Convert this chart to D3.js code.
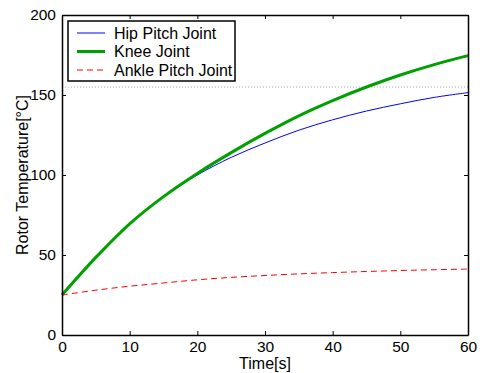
<!DOCTYPE html>
<html>
<head>
<meta charset="utf-8">
<script src="https://cdn.jsdelivr.net/npm/d3@7"></script>
<style>
  body { margin: 0; background: #fff; }
  svg { display: block; font-family: "Liberation Sans", Arial, sans-serif; }
</style>
</head>
<body>
<svg id="chart" width="482" height="373"></svg>
<script>
// time samples [s]
const timeS = [0, 5, 10, 15, 20, 25, 30, 35, 40, 45, 50, 55, 60];
const hipPitch = [25, 48.5, 69.5, 86.5, 100, 111, 120, 128, 134.5, 140, 144.5, 148.5, 151.5];
const knee = [25, 48.5, 69.5, 86.5, 101, 114, 126, 137, 146.5, 155, 162.5, 169, 174.6];
const anklePitch = [25, 28, 30.5, 32.5, 34.5, 36, 37.2, 38.2, 39, 39.7, 40.3, 40.8, 41.2];
const limitTemp = 155;
const xTicks = [0, 10, 20, 30, 40, 50, 60];
const yTicks = [0, 50, 100, 150, 200];
const seriesNames = ['Hip Pitch Joint', 'Knee Joint', 'Ankle Pitch Joint'];

const svg = d3.select('#chart');
const margin = { left: 62, right: 14, top: 15, bottom: 38 };
const width = 482, height = 373;
const x = d3.scaleLinear().domain([0, 60]).range([margin.left, width - margin.right]);
const y = d3.scaleLinear().domain([0, 200]).range([height - margin.bottom, margin.top]);

const series = [
  { name: seriesNames[0], values: hipPitch, color: '#0000ff', w: 1, dash: null },
  { name: seriesNames[1], values: knee, color: '#00a000', w: 3, dash: null },
  { name: seriesNames[2], values: anklePitch, color: '#ff0000', w: 1, dash: '6,4' },
];

// limit line
svg.append('line')
  .attr('x1', x(0)).attr('x2', x(60))
  .attr('y1', y(limitTemp)).attr('y2', y(limitTemp))
  .attr('stroke', '#aaa').attr('stroke-width', 1)
  .attr('stroke-dasharray', '1,2');

const line = d3.line()
  .x((d, i) => x(timeS[i]))
  .y((d) => y(d))
  .curve(d3.curveCatmullRom);

series.forEach((s) => {
  svg.append('path')
    .datum(s.values)
    .attr('d', line)
    .attr('fill', 'none')
    .attr('stroke', s.color)
    .attr('stroke-width', s.w)
    .attr('stroke-dasharray', s.dash);
});

// axes (ticks inside, on all four sides)
const fmt = d3.format('d');
const bottom = svg.append('g').attr('transform', `translate(0,${y(0)})`)
  .call(d3.axisBottom(x).tickValues(xTicks).tickFormat(fmt).tickSizeInner(-4).tickSizeOuter(0).tickPadding(6));
const left = svg.append('g').attr('transform', `translate(${x(0)},0)`)
  .call(d3.axisLeft(y).tickValues(yTicks).tickFormat(fmt).tickSizeInner(-4).tickSizeOuter(0).tickPadding(6));
svg.append('g').attr('transform', `translate(0,${y(200)})`)
  .call(d3.axisTop(x).tickValues(xTicks).tickFormat('').tickSizeInner(-4).tickSizeOuter(0));
svg.append('g').attr('transform', `translate(${x(60)},0)`)
  .call(d3.axisRight(y).tickValues(yTicks).tickFormat('').tickSizeInner(-4).tickSizeOuter(0));

svg.selectAll('.domain').attr('stroke', '#000').attr('stroke-width', 1.5);
svg.selectAll('.tick line').attr('stroke', '#000').attr('stroke-width', 1);
svg.selectAll('.tick text').attr('font-size', 15.5).attr('fill', '#000')
  .attr('font-family', '"Liberation Sans", Arial, sans-serif');
bottom.selectAll('.tick text').attr('dy', '0.71em');

// axis labels
svg.append('text')
  .attr('x', (x(0) + x(60)) / 2).attr('y', 369)
  .attr('text-anchor', 'middle').attr('font-size', 16)
  .text('Time[s]');
svg.append('text')
  .attr('transform', `translate(28,${(y(0) + y(200)) / 2}) rotate(-90)`)
  .attr('text-anchor', 'middle').attr('font-size', 16)
  .text('Rotor Temperature[°C]');

// legend
const lg = svg.append('g').attr('transform', 'translate(68,21)');
lg.append('rect').attr('width', 167).attr('height', 60)
  .attr('fill', '#fff').attr('stroke', '#000').attr('stroke-width', 1.5);
series.forEach((s, i) => {
  const yy = 12 + i * 18.5;
  lg.append('line').attr('x1', 9).attr('x2', 37).attr('y1', yy).attr('y2', yy)
    .attr('stroke', s.color).attr('stroke-width', s.w).attr('stroke-dasharray', s.dash);
  lg.append('text').attr('x', 46).attr('y', yy).attr('dy', '0.36em')
    .attr('font-size', 16).text(s.name);
});
</script>
</body>
</html>
